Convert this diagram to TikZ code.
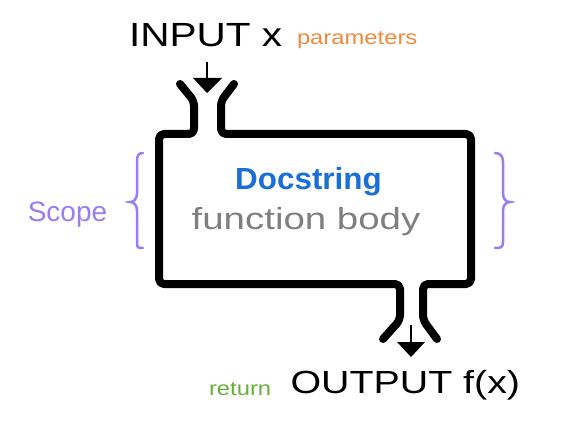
\documentclass[tikz,border=0pt]{standalone}
\usepackage{fontspec}
\usepackage{graphicx}
\setmainfont{Liberation Sans}
\definecolor{porange}{HTML}{EE8A3C}
\definecolor{dblue}{HTML}{1A6FD6}
\definecolor{fgray}{HTML}{7F7F7F}
\definecolor{spurple}{HTML}{9A7CF2}
\definecolor{rgreen}{HTML}{6AAE3A}
\tikzset{
  wall/.style={line width=8pt, line cap=round, line join=round, rounded corners=5pt},
  flowarrow/.style={line width=2.5pt},
  arrowhead/.style={fill=black},
  scopebrace/.style={spurple, line width=2.5pt, line cap=round},
  txt/.style={inner sep=0pt, outer sep=0pt}
}
\begin{document}
\begin{tikzpicture}[x=1pt,y=-1pt]
\useasboundingbox (0,0) rectangle (573,422);
% texts
\node[txt, anchor=base west] (input) at (129,47) {\fontsize{33.5}{40}\selectfont\scalebox{1.21}[1]{INPUT x}};
\node[txt, anchor=base west, text=porange] (params) at (297,45) {\fontsize{20}{24}\selectfont\scalebox{1.19}[1]{parameters}};
\node[txt, anchor=base, text=dblue] (doc) at (308.5,190) {\fontsize{30.5}{36}\selectfont\bfseries\scalebox{1.03}[1]{Docstring}};
\node[txt, anchor=base, text=fgray] (body) at (306,230) {\fontsize{30.5}{36}\selectfont\scalebox{1.26}[1]{function body}};
\node[txt, anchor=base, text=spurple] (scope) at (67.5,222) {\fontsize{28}{32}\selectfont Scope};
\node[txt, anchor=base west, text=rgreen] (ret) at (209,395) {\fontsize{20}{24}\selectfont\scalebox{1.19}[1]{return}};
\node[txt, anchor=base west] (output) at (290.5,393) {\fontsize{32}{38}\selectfont\scalebox{1.23}[1]{OUTPUT f(x)}};
% walls of the function box
\draw[wall] (180,84) -- (194,101) -- (194,134) -- (159,134) -- (159,284) -- (400,284) -- (400,320) -- (383,339);
\draw[wall] (234,84) -- (221,101) -- (221,134) -- (471,134) -- (471,284) -- (423,284) -- (423,320) -- (437,339);
% input arrow
\coordinate (inA) at (207,62);
\coordinate (inB) at (207,79);
\draw[flowarrow] (inA) -- (inB);
\fill[arrowhead] (193,78) -- (222,78) -- (207,93) -- cycle;
% output arrow
\coordinate (outA) at (411,325);
\coordinate (outB) at (411,343);
\draw[flowarrow] (outA) -- (outB);
\fill[arrowhead] (397,342) -- (425,342) -- (411,357) -- cycle;
% braces
\draw[scopebrace] (143,153) .. controls (138,153) and (137,156) .. (137,162) -- (137,193) .. controls (137,199) and (134,202) .. (130,202) .. controls (134,202) and (137,205) .. (137,211) -- (137,242) .. controls (137,248) and (138,248) .. (143,248);
\draw[scopebrace] (495,153) .. controls (500,153) and (503,156) .. (503,162) -- (503,193) .. controls (503,199) and (506,202) .. (510,202) .. controls (506,202) and (503,205) .. (503,211) -- (503,242) .. controls (503,248) and (500,248) .. (495,248);
\end{tikzpicture}
\end{document}
